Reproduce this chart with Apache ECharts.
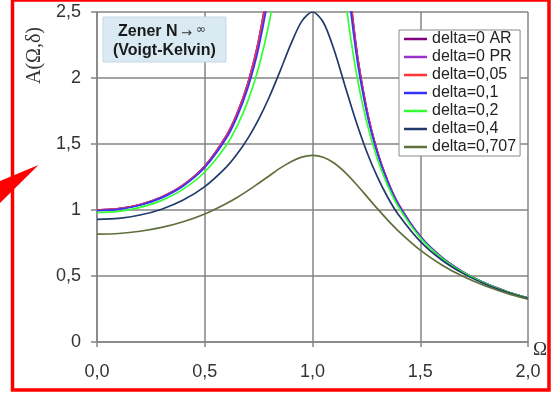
<!DOCTYPE html>
<html><head><meta charset="utf-8">
<script src="https://cdn.jsdelivr.net/npm/echarts@6/dist/echarts.min.js"></script>
<style>html,body{margin:0;padding:0;background:#fff}#c{width:552px;height:393px}</style>
</head><body><div id="c"></div>
<script>
// Omega values (x)
const omega = [0,0.1,0.2,0.3,0.4,0.5,0.6,0.65,0.7,0.75,0.8,0.85,0.9,0.95,1.0,1.05,1.1,1.15,1.2,1.25,1.3,1.35,1.4,1.5,1.6,1.7,1.8,1.9,2.0];
const seriesNames = ['delta=0 AR','delta=0 PR','delta=0,05','delta=0,1','delta=0,2','delta=0,4','delta=0,707'];
const d0AR  = [1.000,1.010,1.042,1.099,1.190,1.333,1.563,1.732,1.961,2.286,2.778,3.604,5.263,10.256,null,9.756,4.762,3.101,2.273,1.778,1.449,1.216,1.042,0.800,0.641,0.529,0.446,0.383,0.333];
const d0PR  = [1.000,1.010,1.042,1.099,1.190,1.333,1.563,1.732,1.961,2.286,2.778,3.604,5.263,10.256,null,9.756,4.762,3.101,2.273,1.778,1.449,1.216,1.042,0.800,0.641,0.529,0.446,0.383,0.333];
const d005  = [0.999,1.009,1.040,1.097,1.188,1.330,1.558,1.725,1.951,2.271,2.751,3.546,5.090,9.127,20.0,8.769,4.632,3.064,2.258,1.771,1.446,1.214,1.040,0.799,0.641,0.529,0.446,0.383,0.333];
const d01   = [0.995,1.005,1.036,1.092,1.182,1.322,1.544,1.706,1.924,2.228,2.676,3.390,4.658,7.160,10.0,6.983,4.299,2.962,2.216,1.750,1.434,1.207,1.036,0.798,0.640,0.528,0.446,0.383,0.333];
const d02   = [0.981,0.990,1.020,1.073,1.158,1.288,1.491,1.636,1.825,2.079,2.428,2.923,3.625,4.494,5.0,4.450,3.448,2.635,2.069,1.675,1.392,1.181,1.020,0.790,0.636,0.526,0.445,0.382,0.333];
const d04   = [0.929,0.937,0.962,1.006,1.075,1.177,1.325,1.424,1.543,1.687,1.858,2.054,2.258,2.429,2.5,2.422,2.214,1.946,1.682,1.449,1.254,1.093,0.962,0.762,0.621,0.518,0.440,0.379,0.330];
const d0707 = [0.817,0.822,0.839,0.868,0.911,0.970,1.049,1.095,1.147,1.203,1.260,1.317,1.366,1.401,1.414,1.400,1.356,1.287,1.201,1.107,1.012,0.922,0.839,0.696,0.584,0.496,0.426,0.370,0.324];
const seriesValues = [d0AR,d0PR,d005,d01,d02,d04,d0707];
const seriesColors = ['#800080','#9933cc','#ff3333','#3333ff','#33ff33','#203a6a','#60703c'];
const xTickLabels = ['0,0','0,5','1,0','1,5','2,0'];
const yTickLabels = ['0','0,5','1','1,5','2','2,5'];

const chart = echarts.init(document.getElementById('c'), null, {renderer:'canvas'});
const gridCol = '#858585';
const series = seriesValues.map((vals, k) => ({
  name: seriesNames[k],
  type: 'line',
  data: omega.map((w, i) => [w, vals[i]]),
  symbol: 'none',
  smooth: 0.3,
  clip: true,
  connectNulls: false,
  lineStyle: {color: seriesColors[k], width: 1.7},
  itemStyle: {color: seriesColors[k]},
  z: 2 + k
}));

chart.setOption({
  animation: false,
  backgroundColor: '#fff',
  grid: {left: 97, right: 24, top: 12, bottom: 51, containLabel: false},
  xAxis: {
    type: 'value', min: 0, max: 2, interval: 0.5,
    axisLine: {show: true, onZero: false, lineStyle: {color: gridCol, width: 1.5}},
    axisTick: {show: true, length: 5, lineStyle: {color: gridCol, width: 1.5}},
    splitLine: {show: true, lineStyle: {color: gridCol, width: 1.5}},
    axisLabel: {margin: 21, color: '#333', fontSize: 18, fontFamily: 'Liberation Sans, Arial, sans-serif',
      formatter: v => xTickLabels[Math.round(v / 0.5)]}
  },
  yAxis: {
    type: 'value', min: 0, max: 2.5, interval: 0.5,
    axisLine: {show: true, onZero: false, lineStyle: {color: gridCol, width: 1.5}},
    axisTick: {show: true, length: 6, lineStyle: {color: gridCol, width: 1.5}},
    splitLine: {show: true, lineStyle: {color: gridCol, width: 1.5}},
    axisLabel: {margin: 16, color: '#333', fontSize: 18, fontFamily: 'Liberation Sans, Arial, sans-serif',
      formatter: v => yTickLabels[Math.round(v / 0.5)]}
  },
  legend: {
    orient: 'vertical', left: 399, top: 30,
    data: seriesNames,
    icon: 'rect',
    backgroundColor: '#fff', borderColor: '#8a8a8a', borderWidth: 1,
    padding: [1, 4, 1, 5],
    itemWidth: 23, itemHeight: 2.5, itemGap: 2,
    textStyle: {fontSize: 16, lineHeight: 16, color: '#222', fontFamily: 'Liberation Sans, Arial, sans-serif'},
    selectedMode: false
  },
  series: series,
  graphic: [
    {type: 'rect', shape: {x: 103, y: 17, width: 123, height: 45},
     style: {fill: '#d9eaf3', stroke: '#c6d8e3', lineWidth: 1}, z: 10},
    {type: 'text', x: 118, y: 31.5, z: 11,
     style: {text: 'Zener N', font: 'bold 16px "Liberation Sans", Arial, sans-serif', fill: '#1a1a1a', textVerticalAlign: 'middle'}},
    {type: 'text', x: 181, y: 33.5, z: 11,
     style: {text: '→', font: '13px "DejaVu Sans", sans-serif', fill: '#333', textVerticalAlign: 'middle'}},
    {type: 'text', x: 196, y: 29.5, z: 11,
     style: {text: '∞', font: '12px "DejaVu Sans", sans-serif', fill: '#333', textVerticalAlign: 'middle'}},
    {type: 'text', x: 113, y: 50.5, z: 11,
     style: {text: '(Voigt-Kelvin)', font: 'bold 16px "Liberation Sans", Arial, sans-serif', fill: '#1a1a1a', textVerticalAlign: 'middle'}},
    {type: 'text', x: 35, y: 55.5, rotation: Math.PI / 2, z: 11,
     style: {text: 'A(Ω,δ)', font: '20px "Liberation Serif", "Times New Roman", serif', fill: '#333', textAlign: 'center', textVerticalAlign: 'middle'}},
    {type: 'text', x: 540, y: 350.5, z: 11,
     style: {text: 'Ω', font: '19px "Liberation Serif", "Times New Roman", serif', fill: '#333', textAlign: 'center', textVerticalAlign: 'middle'}},
    {type: 'rect', shape: {x: 12.5, y: 0, width: 536.5, height: 390},
     style: {fill: 'none', stroke: '#ff0000', lineWidth: 3.5}, z: 20},
    {type: 'polygon', shape: {points: [[38.5, 165], [0, 181], [0, 203]]},
     style: {fill: '#ff0000'}, z: 20}
  ]
});
</script></body></html>
